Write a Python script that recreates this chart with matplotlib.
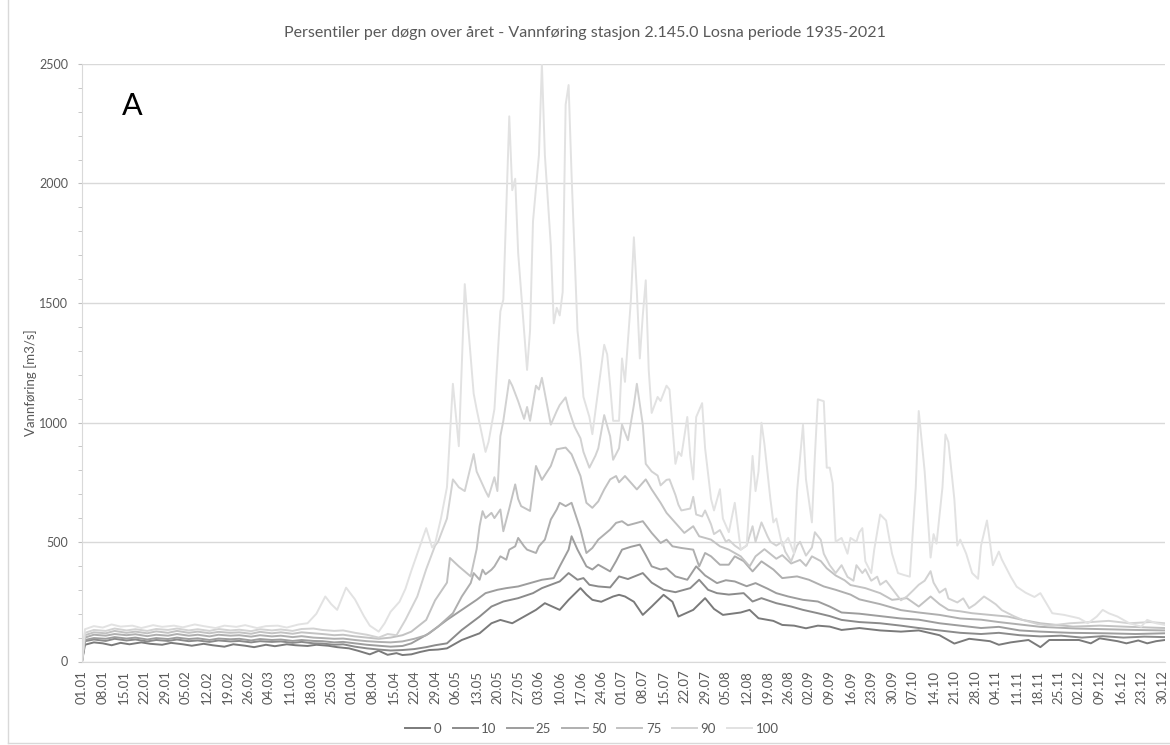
import matplotlib
matplotlib.use("Agg")
import matplotlib.pyplot as plt
from matplotlib.ticker import MultipleLocator
from matplotlib.lines import Line2D

plt.rcParams['font.family'] = ['Lato', 'DejaVu Sans']

# dager i året (0 = 01.01, skuddår) og verdier lest av figuren
q100_d = [0, 1, 4, 7, 10, 13, 17, 20, 24, 27, 31, 34, 38, 41, 45, 48, 52, 55, 59, 62, 66, 69, 73, 76, 79, 82, 84, 86, 89, 92, 95, 97, 100, 102, 104, 107, 109, 111, 113, 116, 118, 119, 121, 123, 125, 127, 129, 132, 133, 136, 137, 139, 141, 142, 144, 145, 146, 147, 149, 150, 151, 152, 154, 155, 156, 158, 159, 160, 161, 162, 163, 164, 165, 167, 168, 169, 171, 172, 174, 176, 177, 178, 179, 181, 182, 183, 185, 186, 187, 188, 189, 190, 191, 192, 194, 195, 197, 198, 200, 201, 202, 204, 205, 206, 207, 209, 210, 212, 213, 215, 216, 218, 220, 222, 224, 226, 227, 228, 229, 230, 232, 233, 234, 236, 238, 240, 241, 243, 244, 246, 247, 248, 250, 251, 252, 253, 254, 256, 258, 259, 261, 262, 263, 264, 266, 267, 269, 271, 273, 275, 277, 279, 281, 282, 284, 286, 287, 288, 290, 291, 292, 294, 295, 296, 298, 300, 302, 303, 305, 306, 307, 309, 310, 313, 315, 318, 321, 323, 325, 327, 331, 336, 339, 342, 344, 346, 349, 353, 357, 359, 362, 365]
q100_v = [0, 135, 148, 142, 155, 146, 150, 140, 152, 145, 150, 143, 155, 148, 140, 150, 145, 152, 140, 148, 150, 142, 155, 160, 200, 272, 240, 216, 309, 260, 190, 150, 125, 160, 208, 250, 304, 380, 451, 558, 477, 493, 600, 729, 1162, 901, 1579, 1121, 1056, 877, 918, 1056, 1465, 1514, 2281, 1972, 2020, 1709, 1383, 1220, 1384, 1842, 2119, 2500, 2119, 1742, 1415, 1480, 1448, 1546, 2330, 2412, 2036, 1384, 1268, 1107, 1023, 951, 1138, 1325, 1285, 1154, 1007, 1007, 1268, 1170, 1514, 1775, 1547, 1268, 1448, 1595, 1220, 1040, 1107, 1090, 1154, 1138, 827, 877, 860, 1023, 860, 762, 1023, 1081, 892, 680, 632, 721, 598, 541, 664, 468, 485, 860, 713, 795, 999, 909, 680, 582, 598, 485, 517, 451, 713, 991, 762, 582, 860, 1097, 1089, 811, 811, 746, 501, 517, 451, 517, 501, 541, 558, 419, 370, 468, 615, 590, 451, 370, 362, 355, 729, 1048, 795, 435, 533, 493, 729, 950, 918, 680, 485, 510, 451, 370, 346, 485, 590, 501, 403, 460, 427, 355, 313, 288, 270, 286, 244, 202, 195, 181, 160, 188, 216, 202, 188, 160, 146, 174, 160, 153]

q90_d = [0, 1, 4, 8, 11, 15, 18, 22, 25, 29, 32, 36, 39, 43, 46, 50, 53, 57, 60, 64, 67, 71, 74, 78, 81, 85, 88, 92, 96, 100, 103, 106, 109, 113, 116, 119, 120, 123, 125, 127, 129, 132, 133, 136, 137, 139, 140, 141, 142, 144, 145, 147, 149, 150, 151, 153, 154, 155, 157, 158, 160, 161, 163, 164, 166, 168, 169, 171, 173, 174, 176, 178, 179, 181, 182, 184, 186, 187, 189, 190, 192, 194, 195, 197, 198, 200, 201, 202, 205, 206, 207, 209, 210, 212, 213, 215, 217, 218, 220, 222, 224, 226, 227, 229, 231, 232, 234, 236, 237, 239, 241, 242, 244, 246, 247, 249, 250, 252, 254, 256, 258, 260, 261, 263, 264, 266, 268, 269, 271, 273, 274, 276, 278, 280, 282, 284, 286, 287, 289, 291, 292, 295, 297, 299, 301, 304, 306, 308, 310, 314, 317, 322, 326, 333, 340, 346, 353, 360, 365]
q90_v = [0, 120, 132, 128, 138, 130, 135, 128, 136, 132, 138, 130, 135, 128, 136, 130, 133, 127, 135, 130, 134, 128, 136, 138, 132, 128, 130, 120, 112, 100, 115, 110, 174, 272, 386, 485, 501, 598, 762, 729, 713, 868, 795, 713, 689, 771, 713, 943, 1007, 1178, 1154, 1089, 1015, 1065, 1007, 1154, 1138, 1187, 1056, 991, 1048, 1073, 1105, 1056, 982, 934, 877, 811, 860, 892, 1031, 942, 844, 892, 991, 926, 1073, 1162, 991, 827, 795, 778, 737, 760, 762, 697, 656, 632, 640, 689, 615, 607, 632, 574, 533, 550, 501, 509, 485, 468, 485, 566, 501, 582, 525, 501, 485, 501, 460, 419, 485, 501, 443, 477, 541, 509, 451, 403, 370, 403, 354, 338, 403, 370, 386, 338, 355, 321, 338, 305, 288, 256, 272, 296, 321, 338, 378, 330, 288, 305, 264, 247, 264, 223, 239, 272, 256, 239, 215, 190, 174, 157, 150, 160, 165, 170, 160, 165, 160]

q75_d = [0, 1, 4, 8, 11, 15, 18, 22, 25, 29, 32, 36, 39, 43, 46, 50, 53, 57, 60, 64, 67, 71, 74, 78, 81, 85, 88, 92, 96, 100, 104, 108, 111, 116, 119, 123, 124, 127, 131, 133, 134, 135, 136, 138, 139, 141, 142, 144, 146, 147, 148, 151, 153, 155, 158, 160, 163, 165, 168, 170, 172, 174, 176, 178, 180, 181, 183, 187, 190, 192, 195, 197, 200, 203, 206, 208, 212, 215, 218, 222, 225, 227, 230, 232, 234, 236, 239, 242, 244, 246, 249, 251, 254, 257, 259, 264, 269, 273, 278, 282, 286, 289, 292, 296, 300, 306, 312, 317, 323, 334, 343, 353, 365]
q75_v = [0, 110, 122, 118, 128, 120, 125, 118, 126, 120, 128, 120, 125, 118, 124, 120, 122, 116, 124, 118, 122, 116, 122, 118, 115, 110, 112, 105, 100, 95, 100, 110, 125, 174, 256, 330, 433, 398, 356, 470, 566, 629, 600, 622, 600, 636, 545, 640, 741, 680, 650, 630, 818, 760, 818, 888, 895, 867, 776, 664, 643, 670, 720, 762, 776, 750, 776, 720, 762, 720, 664, 622, 580, 538, 566, 524, 510, 482, 468, 440, 398, 440, 470, 450, 430, 445, 410, 425, 400, 440, 420, 390, 360, 340, 320, 307, 286, 258, 265, 230, 272, 240, 216, 210, 202, 195, 188, 174, 160, 146, 150, 145, 140]

q50_d = [0, 1, 4, 8, 11, 15, 18, 22, 25, 29, 32, 36, 39, 43, 46, 50, 53, 57, 60, 64, 67, 71, 74, 78, 81, 85, 88, 92, 96, 100, 104, 108, 112, 116, 120, 125, 128, 131, 132, 134, 135, 136, 138, 139, 141, 143, 144, 146, 147, 149, 150, 153, 154, 156, 158, 160, 161, 163, 165, 168, 170, 172, 174, 178, 180, 182, 184, 187, 189, 192, 195, 197, 199, 202, 206, 208, 210, 212, 215, 218, 220, 223, 226, 229, 233, 236, 241, 245, 250, 254, 259, 262, 269, 276, 282, 289, 296, 303, 309, 316, 323, 335, 345, 355, 365]
q50_v = [0, 100, 112, 108, 115, 110, 114, 106, 112, 108, 115, 108, 112, 105, 112, 108, 110, 104, 110, 105, 108, 102, 106, 100, 98, 95, 96, 90, 85, 82, 80, 84, 95, 110, 146, 202, 272, 328, 370, 342, 384, 365, 384, 398, 440, 426, 468, 482, 517, 482, 468, 454, 482, 510, 594, 636, 664, 650, 664, 552, 454, 475, 510, 552, 580, 587, 570, 580, 587, 538, 496, 510, 482, 475, 468, 398, 454, 440, 405, 405, 440, 420, 377, 419, 385, 349, 356, 342, 314, 300, 280, 260, 240, 215, 205, 195, 180, 175, 165, 155, 145, 138, 135, 132, 130]

q25_d = [0, 1, 4, 8, 11, 15, 18, 22, 25, 29, 32, 36, 39, 43, 46, 50, 53, 57, 60, 64, 67, 71, 74, 78, 81, 85, 88, 92, 96, 100, 104, 108, 111, 117, 123, 128, 133, 136, 140, 143, 147, 151, 155, 159, 161, 164, 165, 167, 170, 172, 174, 178, 180, 182, 185, 188, 190, 192, 195, 197, 200, 204, 207, 210, 214, 217, 220, 224, 227, 231, 234, 238, 243, 248, 252, 256, 262, 269, 276, 282, 289, 296, 303, 309, 316, 323, 333, 345, 355, 365]
q25_v = [0, 90, 98, 95, 102, 96, 100, 92, 98, 94, 100, 94, 97, 90, 96, 93, 95, 88, 94, 90, 92, 86, 90, 86, 85, 80, 82, 76, 70, 66, 62, 65, 76, 118, 174, 216, 258, 286, 300, 307, 314, 328, 342, 349, 398, 468, 524, 468, 398, 385, 405, 377, 420, 468, 480, 489, 445, 398, 385, 390, 356, 342, 398, 360, 328, 340, 335, 315, 328, 305, 286, 272, 258, 251, 230, 205, 200, 190, 180, 175, 160, 150, 140, 145, 130, 125, 120, 118, 115, 118]

q10_d = [0, 1, 4, 8, 11, 15, 18, 22, 25, 29, 32, 36, 39, 43, 46, 50, 53, 57, 60, 64, 67, 71, 74, 78, 81, 85, 88, 92, 96, 100, 104, 108, 112, 116, 119, 123, 128, 134, 138, 142, 147, 152, 155, 161, 164, 167, 169, 171, 174, 178, 181, 184, 189, 192, 196, 200, 205, 208, 211, 214, 218, 223, 226, 229, 234, 239, 243, 248, 252, 256, 262, 269, 276, 282, 289, 296, 303, 309, 316, 323, 330, 337, 344, 351, 358, 365]
q10_v = [0, 85, 92, 86, 95, 88, 92, 84, 90, 86, 92, 85, 88, 82, 88, 84, 86, 80, 85, 82, 84, 78, 82, 76, 75, 70, 72, 62, 55, 50, 46, 48, 52, 60, 68, 76, 132, 188, 230, 251, 265, 286, 307, 335, 370, 342, 349, 321, 314, 310, 356, 345, 370, 330, 300, 290, 307, 342, 300, 286, 280, 286, 251, 265, 244, 230, 216, 202, 190, 174, 165, 160, 150, 140, 130, 120, 115, 120, 110, 105, 108, 100, 106, 100, 104, 102]

q0_d = [0, 1, 4, 7, 10, 13, 16, 20, 23, 27, 30, 34, 37, 41, 44, 48, 51, 55, 58, 62, 65, 69, 72, 76, 79, 83, 86, 90, 93, 97, 100, 103, 106, 108, 111, 114, 117, 120, 123, 128, 134, 138, 141, 145, 149, 153, 156, 161, 164, 168, 170, 172, 175, 179, 181, 183, 186, 189, 192, 196, 199, 201, 206, 210, 213, 216, 222, 225, 228, 233, 236, 240, 244, 248, 252, 256, 262, 269, 276, 282, 289, 294, 299, 306, 309, 313, 319, 323, 326, 336, 340, 343, 349, 352, 356, 359, 362, 365]
q0_v = [0, 70, 80, 76, 68, 78, 72, 80, 74, 70, 78, 72, 66, 74, 68, 62, 72, 66, 60, 70, 64, 72, 68, 65, 70, 66, 60, 55, 45, 30, 45, 28, 35, 27, 30, 40, 48, 50, 55, 90, 118, 160, 174, 160, 188, 216, 244, 216, 258, 307, 280, 258, 250, 272, 279, 272, 250, 195, 230, 279, 250, 188, 216, 265, 220, 195, 205, 216, 181, 170, 153, 150, 139, 150, 146, 132, 140, 130, 125, 130, 110, 75, 95, 85, 70, 80, 90, 60, 90, 90, 76, 97, 85, 76, 88, 76, 85, 90]

series = [
    ("0", q0_d, q0_v, "#7a7a7a"),
    ("10", q10_d, q10_v, "#8b8b8b"),
    ("25", q25_d, q25_v, "#9d9d9d"),
    ("50", q50_d, q50_v, "#afafaf"),
    ("75", q75_d, q75_v, "#c2c2c2"),
    ("90", q90_d, q90_v, "#d2d2d2"),
    ("100", q100_d, q100_v, "#e2e2e2"),
]

tick_days = list(range(0, 365, 7))
tick_labels = ["01.01", "08.01", "15.01", "22.01", "29.01", "05.02", "12.02", "19.02", "26.02",
               "04.03", "11.03", "18.03", "25.03", "01.04", "08.04", "15.04", "22.04", "29.04",
               "06.05", "13.05", "20.05", "27.05", "03.06", "10.06", "17.06", "24.06", "01.07",
               "08.07", "15.07", "22.07", "29.07", "05.08", "12.08", "19.08", "26.08", "02.09",
               "09.09", "16.09", "23.09", "30.09", "07.10", "14.10", "21.10", "28.10", "04.11",
               "11.11", "18.11", "25.11", "02.12", "09.12", "16.12", "23.12", "30.12"]

fig = plt.figure(figsize=(11.7, 7.45), dpi=100)
ax = fig.add_axes([82 / 1170, 1 - 661.5 / 745, (1165 - 82) / 1170, (661.5 - 64) / 745])

for navn, d, v, farge in series:
    ax.plot(d, v, color=farge, lw=1.4, label=navn, solid_joinstyle="round")

ax.set_xlim(0, 365)
ax.set_ylim(0, 2500)
ax.yaxis.set_major_locator(MultipleLocator(500))
ax.yaxis.set_minor_locator(MultipleLocator(100))
ax.grid(axis="y", which="major", color="#d9d9d9", lw=1)
ax.set_axisbelow(True)
ax.set_xticks(tick_days)
ax.set_xticklabels(tick_labels, rotation=90, fontsize=9.5, color="#595959")
ax.tick_params(axis="x", length=0, pad=6)
ax.tick_params(axis="y", which="both", length=3, color="#bfbfbf", labelsize=9, labelcolor="#595959", pad=7)

for s in ["top", "right"]:
    ax.spines[s].set_visible(False)
ax.spines["left"].set_color("#d9d9d9")
ax.spines["bottom"].set_color("#d9d9d9")

ax.set_ylabel("Vannføring [m3/s]", fontsize=9.5, color="#595959")
ax.yaxis.set_label_coords((37 - 82) / 1083, (661.5 - 383) / 597.5)

fig.text(585 / 1170, 1 - 33 / 745, "Persentiler per døgn over året - Vannføring stasjon 2.145.0 Losna periode 1935-2021",
         ha="center", va="center", fontsize=11.5, color="#595959")
ax.text(0.046, 0.93, "A", transform=ax.transAxes, fontsize=22, color="black", ha="center", va="center")

# ramme rundt diagramområdet (venstre og nederst)
fig.add_artist(Line2D([8 / 1170, 8 / 1170], [1 - 743 / 745, 1.0], color="#d9d9d9", lw=1))
fig.add_artist(Line2D([8 / 1170, 1.0], [1 - 743 / 745, 1 - 743 / 745], color="#d9d9d9", lw=1))

ax.legend(loc="center", bbox_to_anchor=((592 - 82) / 1083, (661.5 - 729) / 597.5), ncol=7, frameon=False,
          fontsize=9.5, handlelength=1.9, handletextpad=0.25, columnspacing=0.85, labelcolor="#595959")

fig.savefig("out.png", dpi=100)
